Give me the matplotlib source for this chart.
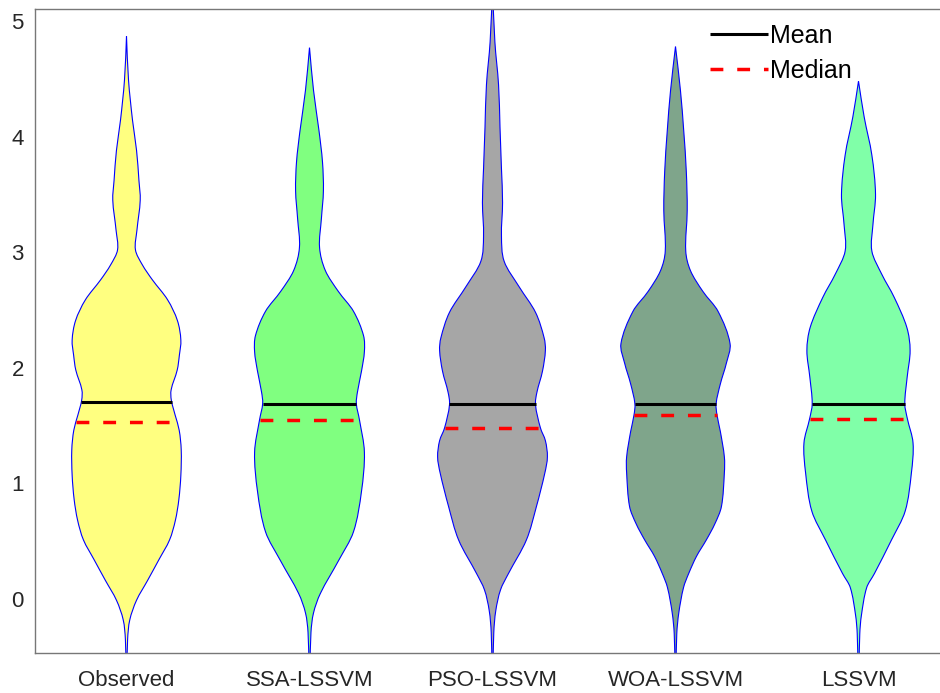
import numpy as np
import matplotlib
matplotlib.use("Agg")
import matplotlib.pyplot as plt
from matplotlib.path import Path
from matplotlib.patches import PathPatch

plt.rcParams['font.family'] = ['Liberation Sans', 'DejaVu Sans']

models = ['Observed', 'SSA-LSSVM', 'PSO-LSSVM', 'WOA-LSSVM', 'LSSVM']
colors = ['#ffff80', '#80ff80', '#a6a6a6', '#7fa58b', '#80ffa8']

means = [1.70, 1.69, 1.69, 1.69, 1.69]
medians = [1.53, 1.55, 1.48, 1.59, 1.56]

# density outlines: y level (bottom -> top) and half width in x units
obs_y = [-0.60, -0.35, -0.18, -0.01, 0.16, 0.34, 0.51, 0.68, 0.86, 1.07, 1.29, 1.46, 1.59,
         1.72, 1.81, 1.98, 2.11, 2.24, 2.41, 2.59, 2.76, 2.89, 3.02, 3.19, 3.45, 3.62, 3.88,
         4.14, 4.49, 4.87]
obs_w = [0.003, 0.006, 0.018, 0.055, 0.115, 0.177, 0.235, 0.267, 0.286, 0.297, 0.299, 0.288,
         0.266, 0.245, 0.244, 0.277, 0.289, 0.297, 0.278, 0.224, 0.142, 0.087, 0.049, 0.057,
         0.075, 0.068, 0.055, 0.033, 0.011, 0.0]

ssa_y = [-0.60, -0.29, -0.12, 0.05, 0.33, 0.58, 0.93, 1.27, 1.55, 1.69, 1.79, 1.97, 2.14,
         2.28, 2.49, 2.66, 2.84, 3.04, 3.29, 3.53, 3.78, 4.05, 4.40, 4.77]
ssa_w = [0.003, 0.008, 0.022, 0.060, 0.158, 0.240, 0.284, 0.300, 0.273, 0.256, 0.262, 0.284,
         0.300, 0.295, 0.240, 0.158, 0.087, 0.055, 0.065, 0.076, 0.071, 0.052, 0.022, 0.0]

pso_y = [-0.60, -0.29, -0.10, 0.08, 0.22, 0.51, 0.80, 1.09, 1.23, 1.37, 1.48, 1.68, 1.79,
         1.97, 2.15, 2.26, 2.48, 2.70, 2.92, 3.14, 3.43, 3.72, 4.08, 4.45, 4.82, 5.30]
pso_w = [0.003, 0.007, 0.018, 0.044, 0.087, 0.185, 0.240, 0.286, 0.300, 0.289, 0.262, 0.235,
         0.243, 0.273, 0.289, 0.282, 0.235, 0.146, 0.064, 0.049, 0.055, 0.049, 0.041, 0.033,
         0.013, 0.0]

woa_y = [-0.60, -0.30, -0.12, 0.10, 0.22, 0.37, 0.51, 0.65, 0.80, 1.09, 1.23, 1.45, 1.59,
         1.69, 1.86, 2.04, 2.21, 2.49, 2.66, 2.84, 3.01, 3.36, 3.70, 4.05, 4.40, 4.78]
woa_w = [0.003, 0.007, 0.018, 0.044, 0.072, 0.115, 0.168, 0.215, 0.251, 0.267, 0.267, 0.245,
         0.227, 0.222, 0.245, 0.278, 0.298, 0.232, 0.150, 0.082, 0.056, 0.064, 0.059, 0.045,
         0.027, 0.0]

lss_y = [-0.60, -0.30, -0.14, 0.10, 0.22, 0.51, 0.76, 1.09, 1.35, 1.56, 1.69, 1.92, 2.15,
         2.35, 2.61, 2.81, 3.01, 3.24, 3.50, 3.84, 4.17, 4.48]
lss_w = [0.003, 0.007, 0.016, 0.045, 0.087, 0.180, 0.255, 0.289, 0.298, 0.267, 0.253, 0.266,
         0.282, 0.264, 0.195, 0.127, 0.073, 0.079, 0.093, 0.073, 0.031, 0.0]

profiles = [(obs_y, obs_w), (ssa_y, ssa_w), (pso_y, pso_w), (woa_y, woa_w), (lss_y, lss_w)]


def hermite_side(xc, ys, ws, sign):
    # cubic hermite x(y) through the outline points, as bezier vertices
    y = np.asarray(ys, float)
    x = xc + sign * np.asarray(ws, float)
    h = np.diff(y)
    m = np.empty_like(x)
    m[0] = (x[1] - x[0]) / h[0]
    m[-1] = (x[-1] - x[-2]) / h[-1]
    m[1:-1] = (x[2:] - x[:-2]) / (y[2:] - y[:-2])
    verts = [(x[0], y[0])]
    for i in range(len(h)):
        verts.append((x[i] + m[i] * h[i] / 3, y[i] + h[i] / 3))
        verts.append((x[i + 1] - m[i + 1] * h[i] / 3, y[i + 1] - h[i] / 3))
        verts.append((x[i + 1], y[i + 1]))
    return verts


fig = plt.figure(figsize=(9.4, 6.93), dpi=100)
ax = fig.add_axes([35 / 940, 40 / 693, 915 / 940, 644 / 693])

for i, (ys, ws) in enumerate(profiles):
    xc = i + 1
    right = hermite_side(xc, ys, ws, 1)
    left = hermite_side(xc, ys, ws, -1)[::-1]
    verts = right + left[1:] + [right[0]]
    codes = ([Path.MOVETO] + [Path.CURVE4] * (len(right) - 1)
             + [Path.CURVE4] * (len(left) - 1) + [Path.CLOSEPOLY])
    patch = PathPatch(Path(verts, codes), facecolor=colors[i], edgecolor='blue',
                      lw=0.8, zorder=2)
    ax.add_patch(patch)

    hw = np.interp(means[i], ys, ws)
    ax.plot([xc - hw, xc + hw], [means[i], means[i]], color='black', lw=2.2,
            solid_capstyle='butt', zorder=3, label='Mean' if i == 0 else None)
    hw = np.interp(medians[i], ys, ws)
    ax.plot([xc - hw, xc + hw], [medians[i], medians[i]], color='red', lw=2.5,
            linestyle=(0, (3.7, 4.0)), zorder=3, label='Median' if i == 0 else None)

ax.set_xlim(0.5, 5.5)
ax.set_ylim(-0.467, 5.104)
ax.set_xticks(range(1, 6))
ax.set_xticklabels(models)
ax.set_yticks(range(0, 6))
ax.tick_params(length=0, labelsize=16, labelcolor='#262626', pad=8)
ax.tick_params(axis='x', pad=12)
for s in ax.spines.values():
    s.set_color('#777777')
    s.set_linewidth(1.0)

ax.legend(loc='upper left', bbox_to_anchor=(0.738, 0.977), frameon=False, fontsize=18,
          handlelength=2.3, handletextpad=0.1, labelspacing=0.45, borderpad=0,
          borderaxespad=0)

fig.savefig('out.png', dpi=100)
